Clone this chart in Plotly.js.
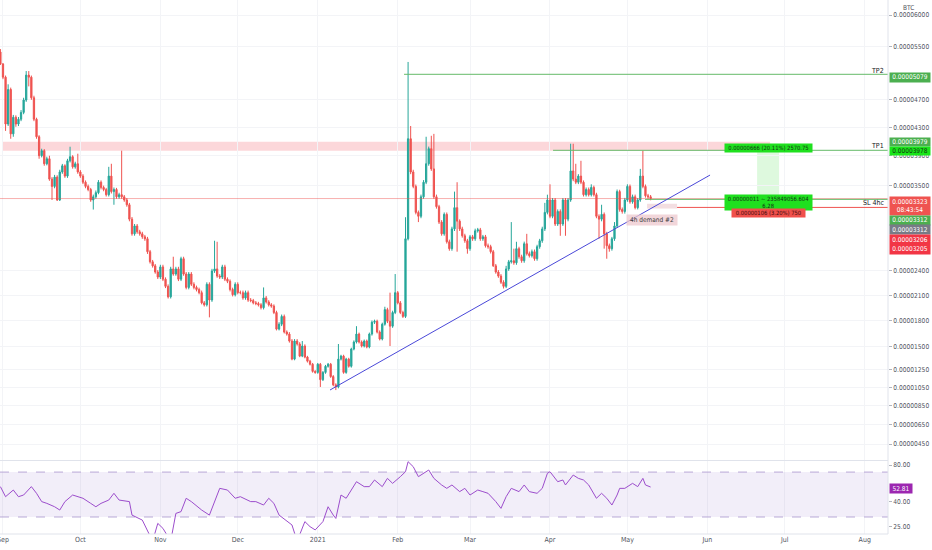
<!DOCTYPE html>
<html><head><meta charset="utf-8">
<script src="https://cdn.plot.ly/plotly-3.0.1.min.js"></script>
<style>html,body{margin:0;padding:0;background:#fff;}#chart{width:932px;height:550px;}</style>
</head><body><div id="chart"></div>
<script>
// Daily candles, prices in satoshi (1e-8 BTC), first candle 2020-08-31
const open = [5419,5235,5036,4349,4852,4209,4446,4349,4418,4516,4697,5067,5036,4730,4418,4168,3903,3973,3792,3861,3583,3485,3610,3304,3680,3764,3624,3833,3889,3750,3792,3680,3624,3541,3485,3443,3304,3346,3401,3541,3471,3443,3374,3624,3415,3443,3346,3374,3346,3304,3241,3053,2864,2965,2889,2864,2826,2801,2638,2512,2462,2386,2324,
2449,2298,2211,2085,2424,2361,2424,2298,2550,2361,2198,2361,2236,2198,2173,2135,2013,1990,2236,2047,2399,2424,2336,2324,2449,2298,2273,2173,2110,2236,2135,2135,2072,2135,2047,2040,2013,2005,1990,1956,2072,2024,1990,1975,1899,1705,1762,1853,1671,1648,1568,1363,1568,1534,1397,1511,1386,1340,1306,1226,1215,1306,1135,1215,1283,1306,1169,1078,
1055,1363,1397,1215,1363,1283,1477,1557,1648,1557,1511,1568,1500,1648,1785,1796,1671,1591,1762,1933,1796,1739,1899,2135,2013,1899,1853,2801,4140,3680,3485,3141,3090,3346,3541,3792,4001,3722,3346,3216,3015,2864,3115,2763,2676,2927,3203,3027,2927,2839,2776,2676,2826,2801,2902,2915,
2801,2826,2713,2701,2638,2462,2386,2336,2261,2211,2424,2512,2525,2500,2676,2575,2525,2738,2613,2588,2638,2550,2701,2776,2927,3141,3304,3090,3304,2990,3153,2990,3304,3053,3304,3694,3583,3541,3624,3541,3374,3443,3374,3471,3374,3090,3053,3115,2864,2713,2676,2801,2965,3415,3178,3153,3304,3485,3279,3346,3203,3304,3624,3485,3360,3346];
const high = [5464,5250,5060,4929,4880,4480,4474,4450,4550,4730,5128,5128,5060,4760,4440,4190,4000,3995,3890,3903,3610,3640,3635,3710,3790,3785,3860,4028,3910,3820,3931,3705,3650,3565,3510,3465,3375,3430,3570,3565,3495,3465,3750,3792,3470,3465,3400,3973,3370,3330,3265,3080,2990,2990,2915,2890,2850,2825,2660,2535,2485,2410,2475,
2475,2320,2235,2450,2575,2450,2450,2575,2575,2385,2385,2385,2260,2220,2195,2160,2035,2260,2260,2425,2776,2763,2360,2475,2475,2320,2295,2195,2260,2260,2160,2160,2160,2160,2070,2060,2035,2025,2010,2198,2095,2045,2010,1995,1920,1785,1875,1875,1690,1670,1590,1590,1590,1555,1568,1530,1400,1355,1320,1240,1320,1320,1230,1298,1320,1320,1185,1095,
1534,1412,1412,1378,1378,1492,1575,1739,1665,1575,1585,1585,1665,1805,1815,1815,1690,1780,1967,1955,2135,1920,2361,2155,2035,1920,3078,5266,4321,3710,3510,3165,3375,3570,4168,4030,4182,4209,3375,3240,3040,3140,3140,2790,2955,3415,3541,3050,2955,2865,2800,2850,2850,2930,2940,2940,
2850,2850,2740,2725,2660,2485,2410,2360,2285,2462,2535,3015,2676,2763,2700,2600,2765,2864,2640,2665,2665,2725,2800,2955,3266,3374,3513,3330,3330,3180,3180,3330,3330,3330,4070,4070,3792,3650,3833,3565,3470,3470,3513,3495,3400,3115,3241,3140,2890,2740,2825,3015,3443,3440,3205,3332,3513,3510,3375,3375,3330,3722,3973,3510,3385,3370];
const low = [5220,5006,4251,4321,4140,4168,4310,4320,4390,4490,4670,4898,4700,4390,4140,3861,3880,3765,3770,3560,3304,3460,3291,3291,3655,3600,3600,3810,3725,3725,3655,3600,3515,3460,3420,3280,3178,3320,3380,3445,3420,3350,3350,3390,3241,3320,3320,3320,3280,3215,3025,2840,2840,2865,2840,2800,2775,2610,2490,2440,2365,2300,2300,
2275,2190,2065,2065,2340,2340,2275,2275,2340,2175,2175,2215,2175,2150,2115,1995,1970,1970,1842,2025,2375,2315,2300,2300,2275,2250,2150,2090,2090,2115,2115,2050,2050,2025,2020,1995,1985,1970,1935,1935,2005,1970,1955,1880,1690,1690,1740,1655,1630,1550,1350,1350,1515,1385,1385,1372,1325,1292,1212,1200,1200,1055,1120,1200,1268,1155,1063,1021,
1040,1348,1200,1200,1268,1268,1462,1540,1540,1495,1495,1485,1485,1630,1765,1655,1575,1575,1745,1775,1511,1720,1880,1995,1880,1835,1835,2780,3650,3460,3115,3015,3065,3320,3515,3765,3695,3320,3190,2990,2840,2840,2740,2650,2650,2900,2638,2900,2815,2750,2613,2650,2775,2775,2880,2775,
2775,2690,2675,2615,2449,2365,2315,2240,2185,2190,2400,2490,2475,2475,2550,2500,2500,2590,2565,2565,2525,2525,2675,2750,2900,3115,3065,3065,2965,2965,2839,2965,2839,3025,3280,3555,3515,3515,3515,3350,3350,3350,3350,3350,3065,2801,3025,2676,2550,2638,2651,2775,2940,3150,3125,3125,3280,3255,3255,3180,3180,3280,3460,3335,3320,3300];
const close = [5235,5036,4349,4852,4209,4446,4349,4418,4516,4697,5067,5036,4730,4418,4168,3903,3973,3792,3861,3583,3485,3610,3304,3680,3764,3624,3833,3889,3750,3792,3680,3624,3541,3485,3443,3304,3346,3401,3541,3471,3443,3374,3624,3415,3443,3346,3374,3346,3304,3241,3053,2864,2965,2889,2864,2826,2801,2638,2512,2462,2386,2324,2449,
2298,2211,2085,2424,2361,2424,2298,2550,2361,2198,2361,2236,2198,2173,2135,2013,1990,2236,2047,2399,2424,2336,2324,2449,2298,2273,2173,2110,2236,2135,2135,2072,2135,2047,2040,2013,2005,1990,1956,2072,2024,1990,1975,1899,1705,1762,1853,1671,1648,1568,1363,1568,1534,1397,1511,1386,1340,1306,1226,1215,1306,1135,1215,1283,1306,1169,1078,1055,
1363,1397,1215,1363,1283,1477,1557,1648,1557,1511,1568,1500,1648,1785,1796,1671,1591,1762,1933,1796,1739,1899,2135,2013,1899,1853,2801,4140,3680,3485,3141,3090,3346,3541,3792,4001,3722,3346,3216,3015,2864,3115,2763,2676,2927,3203,3027,2927,2839,2776,2676,2826,2801,2902,2915,2801,
2826,2713,2701,2638,2462,2386,2336,2261,2211,2424,2512,2525,2500,2676,2575,2525,2738,2613,2588,2638,2550,2701,2776,2927,3141,3304,3090,3304,2990,3153,2990,3304,3053,3304,3694,3583,3541,3624,3541,3374,3443,3374,3471,3374,3090,3053,3115,2864,2713,2676,2801,2965,3415,3178,3153,3304,3485,3279,3346,3203,3304,3624,3485,3360,3346,3323];

// RSI(14) readings: day offset from 2020-08-31 and value
const rsiDay = [0,2,5,7,9,12,14,16,18,21,23,25,28,30,32,35,37,39,42,44,46,50,51,55,59,61,63,66,68,70,72,74,78,81,83,85,88,91,93,97,99,102,104,106,108,111,113,115,118,120,122,125,127,129,130,132,134,136,138,141,143,145,148,150,152,155,157,158,160,162,164,166,168,171,173,175,178,180,182,185,187,189,192,194,196,198,201,203,205,208,210,212,213,216,218,219,222,224,226,228,231,233,235,237,239,240,242,245,247,249,250,252];
const rsiVal = [53.2,44.0,49.9,44.0,45.4,53.2,46.9,40.1,38.8,36.4,34.2,40.1,45.4,44.0,42.7,38.8,36.4,38.8,41.3,46.9,41.3,40.1,31.1,28.3,19,26.6,24.2,19,32.1,33.2,42.7,40.1,34.2,31.1,40.1,51.5,49.9,42.7,44.0,40.1,40.1,37.6,42.7,38.8,31.1,27.5,25.8,19,27.5,25.0,23.5,27.5,36.4,31.1,29.2,45.4,42.7,49.9,58.4,53.2,53.2,60.3,53.2,62.2,56.6,64.2,70.5,85.2,77.5,64.2,68.4,72.8,62.2,54.9,51.5,54.9,48.4,51.5,45.4,49.9,48.4,46.9,40.1,35.3,44.0,51.5,48.4,54.9,48.4,46.9,51.5,68.4,70.5,58.4,60.3,54.9,66.2,62.2,60.3,54.9,42.7,46.9,42.7,37.6,45.4,51.5,51.5,56.6,53.2,62.2,54.9,52.81];
const rsiBands = [30, 70];

const monthTicks = ['2020-09-01','2020-10-01','2020-11-01','2020-12-01','2021-01-01','2021-02-01','2021-03-01','2021-04-01','2021-05-01','2021-06-01','2021-07-01','2021-08-01'];
const monthLabels = ['Sep','Oct','Nov','Dec','2021','Feb','Mar','Apr','May','Jun','Jul','Aug'];
const priceTicks = [6000,5500,4700,4300,3900,3500,2400,2100,1800,1500,1250,1050,850,650,450];
const rsiTicks = [25,40,80];

// Key levels (satoshi)
const tp2 = 5079, tp1 = 3978, lastPrice = 3323, entry = 3312, stop = 3206;
const zoneTop = 4098, zoneBottom = 3973;

// ---- scale helpers ----
const OFFSET = 9500;                       // price scale of the chart (offset log)
const T = p => Math.log10(p + OFFSET);
const fmt = p => (p / 1e8).toFixed(8);
const BASE = Date.UTC(2020, 7, 31);
const dayDate = d => new Date(BASE + d * 86400000).toISOString().slice(0, 19).replace('T', ' ');
const PW = 888, PH = 534;
const py = pix => 1 - pix / PH;
const pxX = pix => pix / PW;
const dAt = pix => (pix - 0.4) / 2.58;     // pixel -> day offset (for drawings)

const FONT = '"DejaVu Sans Condensed", Roboto, sans-serif';
const xStart = dayDate(-0.155), xEnd = dayDate(344);
const dates = close.map((_, i) => dayDate(i));

const traces = [
  {type:'candlestick', x:dates, open:open.map(T), high:high.map(T), low:low.map(T), close:close.map(T),
   increasing:{line:{color:'#26a69a', width:1}, fillcolor:'#26a69a'},
   decreasing:{line:{color:'#ef5350', width:1}, fillcolor:'#ef5350'},
   whiskerwidth:0, hoverinfo:'skip', xaxis:'x', yaxis:'y'},
  {type:'scatter', mode:'lines', x:[xStart, xEnd], y:[rsiBands[0], rsiBands[0]], xaxis:'x', yaxis:'y2',
   line:{color:'#b8a8d6', width:1, dash:'dash'}, hoverinfo:'skip'},
  {type:'scatter', mode:'lines', x:[xStart, xEnd], y:[rsiBands[1], rsiBands[1]], xaxis:'x', yaxis:'y2',
   line:{color:'#b8a8d6', width:1, dash:'dash'}, fill:'tonexty', fillcolor:'rgba(126,87,194,0.10)', hoverinfo:'skip'},
  {type:'scatter', mode:'lines', x:rsiDay.map(dayDate), y:rsiVal, xaxis:'x', yaxis:'y2',
   line:{color:'#9c4dcc', width:1}, hoverinfo:'skip'}
];

function hline(x0, price, color, w) {
  return {type:'line', xref:'x', yref:'y', x0:x0, x1:xEnd, y0:T(price), y1:T(price), line:{color:color, width:w||1}};
}

const shapes = [
  {type:'rect', xref:'x', yref:'y', x0:dayDate(1), x1:dayDate(dAt(770)), y0:T(zoneBottom), y1:T(zoneTop),
   fillcolor:'rgba(242,54,69,0.2)', line:{width:0}, layer:'below'},
  {type:'rect', xref:'x', yref:'y', x0:dayDate(dAt(757)), x1:dayDate(dAt(779)), y0:T(entry), y1:T(tp1),
   fillcolor:'rgba(0,210,0,0.13)', line:{width:0}, layer:'below'},
  {type:'rect', xref:'x', yref:'y', x0:dayDate(dAt(647)), x1:dayDate(dAt(677)), y0:T(3191), y1:T(3254),
   fillcolor:'rgba(220,160,170,0.35)', line:{width:0}, layer:'below'},
  {type:'line', xref:'x', yref:'y', x0:xStart, x1:xEnd, y0:T(lastPrice), y1:T(lastPrice), line:{color:'rgba(239,83,80,0.45)', width:1}},
  hline(dayDate(dAt(404)), tp2, '#66bb6a'),
  hline(dayDate(dAt(553)), tp1, '#66bb6a'),
  hline(dayDate(dAt(645)), entry, '#66bb6a'),
  hline(dayDate(dAt(677)), stop, '#ef5350'),
  {type:'line', xref:'x', yref:'y', x0:dayDate(dAt(330)), y0:T(1022), x1:dayDate(dAt(710)), y1:T(3638),
   line:{color:'#4a48d8', width:1}},
  {type:'line', xref:'paper', yref:'paper', x0:0, x1:1, y0:py(460.5), y1:py(460.5), line:{color:'#e0e3eb', width:1}},
  {type:'line', xref:'paper', yref:'paper', x0:0, x1:1, y0:0, y1:0, line:{color:'#e0e3eb', width:1}},
  {type:'line', xref:'paper', yref:'paper', x0:1, x1:1, y0:0, y1:1, line:{color:'#e0e3eb', width:1}}
];

function badge(text, yPix, bg, fg, h, w) {
  return {xref:'paper', yref:'paper', x:889/PW, xanchor:'left', y:py(yPix), yanchor:'middle', text:text,
    showarrow:false, bgcolor:bg, font:{family:FONT, size:6.5, color:fg}, width:w||40, height:h||9, borderpad:0, align:'center'};
}
function label(text, xPix, yPix, anchor, size, color, extra) {
  return Object.assign({xref:'paper', yref:'paper', x:pxX(xPix), y:py(yPix), xanchor:anchor, yanchor:'middle',
    text:text, showarrow:false, font:{family:FONT, size:size, color:color}}, extra || {});
}

const annotations = [
  label('BTC', 908, 8, 'center', 6.5, '#50535e'),
  label('TP2', 886, 71, 'right', 7, '#131722'),
  label('TP1', 886, 146, 'right', 7, '#131722'),
  label('SL 4hc', 887, 203, 'right', 7, '#131722'),
  label('4h demand #2', 652, 220, 'center', 6.5, '#3a3a3a', {bgcolor:'rgba(238,200,206,0.75)', width:50, height:10, borderpad:0}),
  label('0.00000666 (20.11%) 2570.75', 768.5, 148, 'center', 5.8, '#123312', {bgcolor:'#1fe01f', width:87, height:8, borderpad:0}),
  label('0.00000011 ~ 235849056.604<br>6.28', 768.5, 202, 'center', 5.8, '#123312', {bgcolor:'#1fe01f', width:87, height:15, borderpad:0}),
  label('0.00000106 (3.20%) 750', 768.5, 213.5, 'center', 5.8, '#3b0a0a', {bgcolor:'#f0504c', width:73, height:8, borderpad:0}),
  badge(fmt(tp2), 77, '#4caf50', '#ffffff', 8.5),
  badge(fmt(3979), 142.5, '#4caf50', '#ffffff', 8),
  badge(fmt(tp1), 151, '#19e619', '#123312', 8),
  badge(fmt(lastPrice) + '<br>08:43:54', 206, '#ef5350', '#ffffff', 18),
  badge(fmt(entry), 220, '#4caf50', '#ffffff', 8.5),
  badge(fmt(entry), 229, '#787b86', '#ffffff', 9),
  badge(fmt(stop) + '<br>' + fmt(3205), 244, '#f23645', '#ffffff', 19),
  badge(rsiVal[rsiVal.length - 1].toFixed(2), 488, '#9c27b0', '#ffffff', 9, 22)
];

const tickFont = {family:FONT, size:6.6, color:'#50535e'};
const layout = {
  width:932, height:550, margin:{l:0, r:44, t:0, b:16, pad:0},
  paper_bgcolor:'#ffffff', plot_bgcolor:'#ffffff', showlegend:false,
  font:{family:FONT, size:8, color:'#131722'},
  xaxis:{type:'date', range:[xStart, xEnd], anchor:'y2', domain:[0,1], tickvals:monthTicks, ticktext:monthLabels,
    tickangle:0, showgrid:true, gridcolor:'#f3f4f7', ticks:'', showline:false, zeroline:false,
    tickfont:{family:FONT, size:7, color:'#50535e'}, ticklabeloverflow:'allow', rangeslider:{visible:false}, fixedrange:true},
  yaxis:{domain:[1 - 460/PH, 1], side:'right', anchor:'x', range:[T(288), T(6242)],
    tickvals:priceTicks.map(T), ticktext:priceTicks.map(fmt), ticks:'outside', ticklen:3, tickcolor:'#b2b5be',
    showgrid:true, gridcolor:'#f3f4f7', zeroline:false, showline:false, tickfont:tickFont, fixedrange:true},
  yaxis2:{domain:[0, 73/PH], side:'right', anchor:'x', type:'log', range:[Math.log10(21.76), Math.log10(86.3)],
    tickvals:rsiTicks, ticktext:rsiTicks.map(v => v.toFixed(2)), ticks:'outside', ticklen:3, tickcolor:'#b2b5be',
    showgrid:false, zeroline:false, showline:false, tickfont:tickFont, fixedrange:true},
  shapes:shapes, annotations:annotations
};

Plotly.newPlot('chart', traces, layout, {staticPlot:true, displayModeBar:false});
</script>
</body></html>
